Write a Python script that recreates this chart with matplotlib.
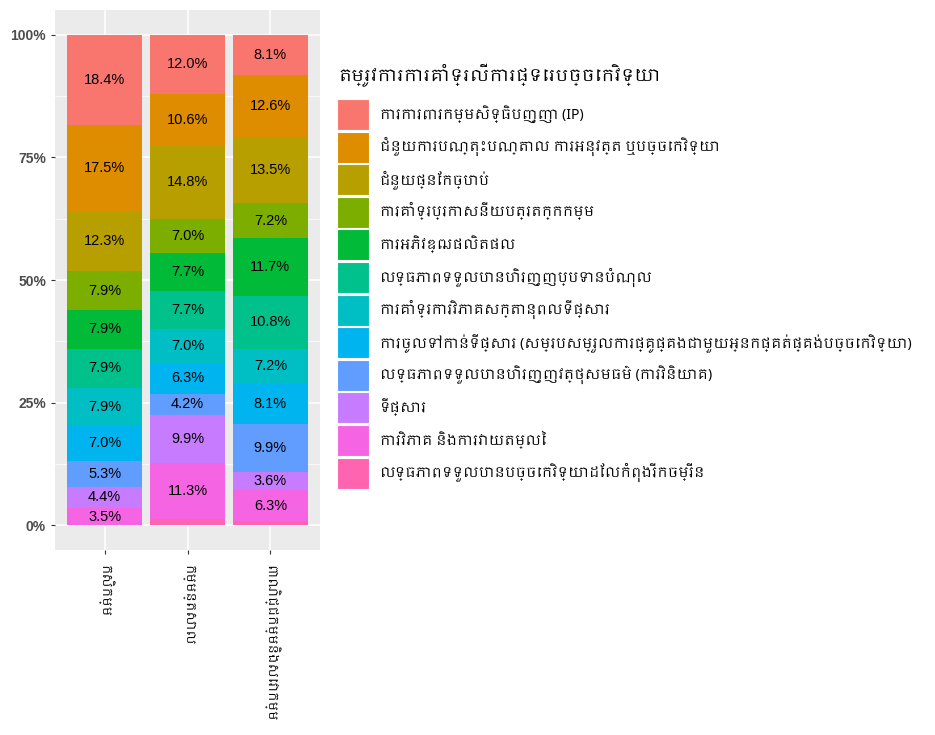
import matplotlib
matplotlib.use("Agg")
import matplotlib.pyplot as plt
from matplotlib import font_manager
from matplotlib.patches import Patch
from matplotlib.ticker import MultipleLocator, FuncFormatter

# sectors on the x axis
sectors = ["កសិកម្ម", "កម្មន្តសាល", "ពាណិជ្ជកម្មនិងសេវាកម្ម"]

# support needs, top of the stack first (legend order)
needs = [
    "ការការពារកម្មសិទ្ធិបញ្ញា (IP)",
    "ជំនួយការបណ្តុះបណ្តាល ការអនុវត្ត ឬបច្ចេកវិទ្យា",
    "ជំនួយផ្នែកច្បាប់",
    "ការគាំទ្រប្រកាសនីយបត្រតក្កកម្ម",
    "ការអភិវឌ្ឍផលិតផល",
    "លទ្ធភាពទទួលបានហិរញ្ញប្បទានបំណុល",
    "ការគាំទ្រការវិភាគសក្តានុពលទីផ្សារ",
    "ការចូលទៅកាន់ទីផ្សារ (សម្របសម្រួលការផ្គូផ្គងជាមួយអ្នកផ្គត់ផ្គង់បច្ចេកវិទ្យា)",
    "លទ្ធភាពទទួលបានហិរញ្ញវត្ថុសមធម៌ (ការវិនិយោគ)",
    "ទីផ្សារ",
    "ការវិភាគ និងការវាយតម្លៃ",
    "លទ្ធភាពទទួលបានបច្ចេកវិទ្យាដែលកំពុងរីកចម្រើន",
]

# percent per sector, same order as needs
agri = [18.4, 17.5, 12.3, 7.9, 7.9, 7.9, 7.9, 7.0, 5.3, 4.4, 3.5, 0.0]
manu = [12.0, 10.6, 14.8, 7.0, 7.7, 7.7, 7.0, 6.3, 4.2, 9.9, 11.3, 1.4]
trade = [8.1, 12.6, 13.5, 7.2, 11.7, 10.8, 7.2, 8.1, 9.9, 3.6, 6.3, 0.9]

colors = ["#F8766D", "#DE8C00", "#B79F00", "#7CAE00", "#00BA38", "#00C08B",
          "#00BFC4", "#00B4F0", "#619CFF", "#C77CFF", "#F564E3", "#FF64B0"]

title = "តម្រូវការការគាំទ្រលើការផ្ទេរបច្ចេកវិទ្យា"

# pick a font that has Khmer glyphs if one is around
khmer = sorted({f.name for f in font_manager.fontManager.ttflist if "Khmer" in f.name})
plt.rcParams["font.family"] = khmer + ["Liberation Sans", "DejaVu Sans"]
latin = ["Liberation Sans", "DejaVu Sans"]

fig = plt.figure(figsize=(9.35, 7.35), dpi=100)
ax = fig.add_axes([55 / 935, 1 - 550 / 735, 265 / 935, 540 / 735])
ax.set_facecolor("#EBEBEB")
for s in ax.spines.values():
    s.set_visible(False)

ax.yaxis.set_major_locator(MultipleLocator(25))
ax.yaxis.set_minor_locator(MultipleLocator(12.5))
ax.grid(which="major", color="white", linewidth=1.1)
ax.grid(which="minor", axis="y", color="white", linewidth=0.5)
ax.set_axisbelow(True)

x = [1, 2, 3]
data = [agri, manu, trade]
for i, xi in enumerate(x):
    vals = data[i]
    bottom = 0.0
    # stack from the last need upward so the first sits on top
    for j in range(len(needs) - 1, -1, -1):
        v = vals[j]
        if v <= 0:
            continue
        ax.bar(xi, v, width=0.9, bottom=bottom, color=colors[j], linewidth=0)
        if v >= 2:
            ax.text(xi, bottom + v / 2, f"{v:.1f}%", ha="center", va="center",
                    fontsize=10.5, color="black", family=latin)
        bottom += v

ax.set_xlim(0.4, 3.6)
ax.set_ylim(-5, 105)
ax.set_xticks(x)
ax.set_xticklabels(sectors, rotation=-90, va="top", ha="center", fontsize=9, color="#000000")
ax.yaxis.set_major_formatter(FuncFormatter(lambda v, p: f"{v:.0f}%"))
ax.tick_params(axis="y", labelsize=10, labelcolor="#4D4D4D", color="#333333", length=3)
ax.tick_params(axis="x", color="#333333", length=3, pad=8)
ax.tick_params(which="minor", length=0)
for t in ax.get_yticklabels():
    t.set_fontweight("bold")
    t.set_family(latin)

fig.text(338 / 935, 1 - 75 / 735, title, fontsize=12.5, fontweight="bold",
         ha="left", va="center")

handles = [Patch(facecolor=c, edgecolor="white", linewidth=0.8) for c in colors]
leg = fig.legend(handles, needs, loc="upper left", bbox_to_anchor=(337 / 935, 1 - 99 / 735),
                 frameon=False, fontsize=10, handlelength=2.3, handleheight=3.05,
                 labelspacing=0.12, handletextpad=0.8, borderaxespad=0, borderpad=0)

fig.savefig("out.png", dpi=100)
